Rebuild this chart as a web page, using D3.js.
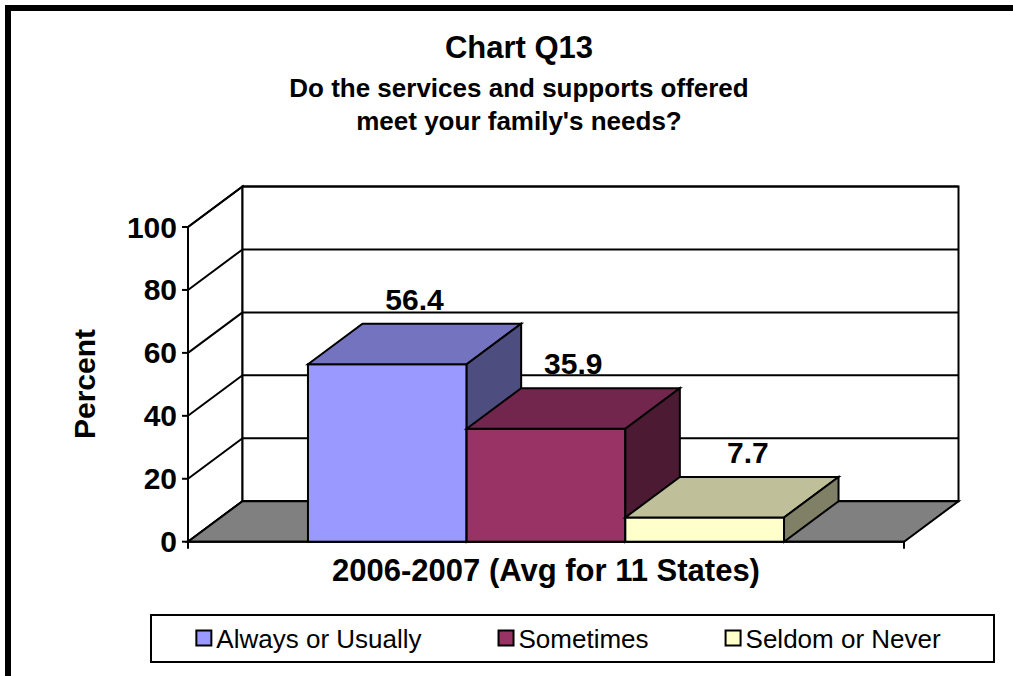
<!DOCTYPE html>
<html>
<head>
<meta charset="utf-8">
<script src="https://cdn.jsdelivr.net/npm/d3@7"></script>
<style>
  html, body { margin: 0; background: #fff; overflow: hidden; }
  svg { display: block; font-family: Arial, "Liberation Sans", sans-serif; }
</style>
</head>
<body>
<svg id="chart" width="1013" height="676"></svg>
<script>
// ---- data ----
const titleLines = ["Chart Q13", "Do the services and supports offered", "meet your family's needs?"];
const categoryLabel = "2006-2007 (Avg for 11 States)";
const seriesNames = ["Always or Usually", "Sometimes", "Seldom or Never"];
const seriesValues = [56.4, 35.9, 7.7];
const yTicks = [0, 20, 40, 60, 80, 100];
const yLabel = "Percent";
const seriesColors = ["#9999FF", "#993366", "#FFFFCC"];

// ---- layout ----
const svg = d3.select("#chart");
const plot = { left: 188, right: 904, top: 227, bottom: 541.7 };
const depth = { dx: 54.5, dy: -40.5 };
const labelShift = [0, 0, 16];

const y = d3.scaleLinear().domain([0, 100]).range([plot.bottom, plot.top]);
const x = d3.scaleBand()
  .domain(seriesNames)
  .range([plot.left, plot.right])
  .paddingInner(0)
  .paddingOuter(0.756);
const color = d3.scaleOrdinal().domain(seriesNames).range(seriesColors);

const shade = (c, k) => {
  const rgb = d3.rgb(c);
  return d3.rgb(rgb.r * k, rgb.g * k, rgb.b * k).formatHex();
};

// outer frame (runs past the right and bottom edges)
svg.append("rect")
  .attr("x", 8).attr("y", 8)
  .attr("width", 1200).attr("height", 900)
  .attr("fill", "none").attr("stroke", "#000").attr("stroke-width", 6);

// titles
const titleY = [58, 97, 130];
const titleSize = [31, 26, 26];
svg.append("g").selectAll("text")
  .data(titleLines)
  .join("text")
  .attr("x", 519)
  .attr("y", (d, i) => titleY[i])
  .attr("text-anchor", "middle")
  .attr("font-weight", "bold")
  .attr("font-size", (d, i) => titleSize[i])
  .text(d => d);

const line = { stroke: "#000", "stroke-width": 2, "stroke-linejoin": "miter" };
function styled(sel) {
  Object.entries(line).forEach(([k, v]) => sel.attr(k, v));
  return sel;
}

// walls
const walls = svg.append("g");
const bx0 = plot.left + depth.dx, bx1 = plot.right + depth.dx;
styled(walls.append("polygon")
  .attr("points", [
    [plot.left, y(100)], [bx0, y(100) + depth.dy],
    [bx0, y(0) + depth.dy], [plot.left, y(0)]
  ].join(" "))
  .attr("fill", "#fff"));
styled(walls.append("rect")
  .attr("x", bx0).attr("y", y(100) + depth.dy)
  .attr("width", bx1 - bx0).attr("height", y(0) - y(100))
  .attr("fill", "#fff"));

// gridlines on the back and side walls
yTicks.forEach(v => {
  styled(walls.append("line")
    .attr("x1", bx0).attr("x2", bx1)
    .attr("y1", y(v) + depth.dy).attr("y2", y(v) + depth.dy));
  styled(walls.append("line")
    .attr("x1", plot.left).attr("x2", bx0)
    .attr("y1", y(v)).attr("y2", y(v) + depth.dy));
});

// floor
styled(walls.append("polygon")
  .attr("points", [
    [plot.left, y(0)], [plot.right, y(0)],
    [bx1, y(0) + depth.dy], [bx0, y(0) + depth.dy]
  ].join(" "))
  .attr("fill", "#808080"));

// value axis
const yAxis = svg.append("g");
styled(yAxis.append("line")
  .attr("x1", plot.left).attr("x2", plot.left)
  .attr("y1", y(100)).attr("y2", y(0)));
yAxis.selectAll(".tick")
  .data(yTicks)
  .join(enter => {
    const g = enter.append("g").attr("class", "tick");
    styled(g.append("line")
      .attr("x1", plot.left - 6).attr("x2", plot.left)
      .attr("y1", d => y(d)).attr("y2", d => y(d)));
    g.append("text")
      .attr("x", plot.left - 11)
      .attr("y", d => y(d) + 10.5)
      .attr("text-anchor", "end")
      .attr("font-weight", "bold")
      .attr("font-size", 30)
      .text(d => d);
    return g;
  });

svg.append("text")
  .attr("transform", `translate(95,384) rotate(-90)`)
  .attr("text-anchor", "middle")
  .attr("font-weight", "bold")
  .attr("font-size", 30)
  .text(yLabel);

// category axis
const xAxis = svg.append("g");
styled(xAxis.append("line")
  .attr("x1", plot.left).attr("x2", plot.right)
  .attr("y1", y(0)).attr("y2", y(0)));
[plot.left, plot.right].forEach(px => {
  styled(xAxis.append("line")
    .attr("x1", px).attr("x2", px)
    .attr("y1", y(0)).attr("y2", y(0) + 7));
});
svg.append("text")
  .attr("x", (plot.left + plot.right) / 2)
  .attr("y", 581)
  .attr("text-anchor", "middle")
  .attr("font-weight", "bold")
  .attr("font-size", 31)
  .text(categoryLabel);

// 3-D bars
const bars = svg.append("g");
const bw = x.bandwidth();
seriesNames.forEach((name, i) => {
  const v = seriesValues[i];
  const x0 = x(name), x1 = x0 + bw;
  const yt = y(v), yb = y(0);
  const c = color(name);
  const g = bars.append("g");
  styled(g.append("rect")
    .attr("x", x0).attr("y", yt)
    .attr("width", bw).attr("height", yb - yt)
    .attr("fill", c));
  styled(g.append("polygon")
    .attr("points", [[x0, yt], [x0 + depth.dx, yt + depth.dy],
      [x1 + depth.dx, yt + depth.dy], [x1, yt]].join(" "))
    .attr("fill", shade(c, 0.75)));
  styled(g.append("polygon")
    .attr("points", [[x1, yt], [x1 + depth.dx, yt + depth.dy],
      [x1 + depth.dx, yb + depth.dy], [x1, yb]].join(" "))
    .attr("fill", shade(c, 0.5)));
});

// value labels
svg.append("g").selectAll("text")
  .data(seriesValues)
  .join("text")
  .attr("x", (d, i) => x(seriesNames[i]) + bw / 2 + depth.dx / 2 + labelShift[i])
  .attr("y", d => y(d) + depth.dy / 2 - 34)
  .attr("text-anchor", "middle")
  .attr("font-weight", "bold")
  .attr("font-size", 30)
  .text(d => d.toFixed(1));

// legend
const legend = svg.append("g");
const lgBox = { x: 151, y: 615, w: 843, h: 47 };
styled(legend.append("rect")
  .attr("x", lgBox.x).attr("y", lgBox.y)
  .attr("width", lgBox.w).attr("height", lgBox.h)
  .attr("fill", "#fff"));
const items = legend.selectAll(".item")
  .data(seriesNames)
  .join("g").attr("class", "item");
items.append("rect")
  .attr("x", 0).attr("y", -8)
  .attr("width", 15).attr("height", 15)
  .attr("fill", d => color(d))
  .attr("stroke", "#000").attr("stroke-width", 2);
items.append("text")
  .attr("x", 20).attr("y", 9)
  .attr("font-size", 26)
  .text(d => d);
const widths = [];
items.each(function () { widths.push(20 + this.querySelector("text").getComputedTextLength()); });
const gap = 77;
const total = d3.sum(widths) + gap * (widths.length - 1);
let cx = lgBox.x + (lgBox.w - total) / 2 - 4;
items.attr("transform", (d, i) => {
  const t = `translate(${cx},${lgBox.y + lgBox.h / 2})`;
  cx += widths[i] + gap;
  return t;
});
</script>
</body>
</html>
